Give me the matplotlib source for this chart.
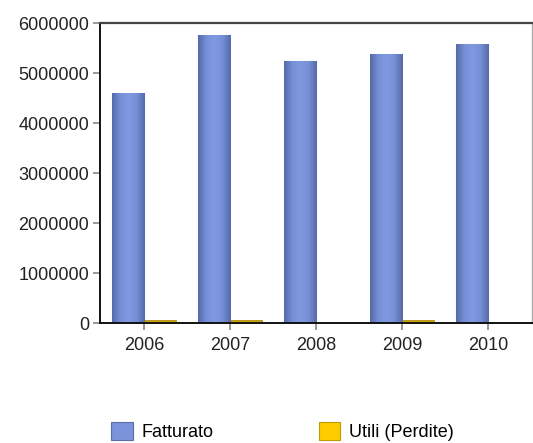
import matplotlib
matplotlib.use("Agg")
import matplotlib.pyplot as plt
import numpy as np
from matplotlib.patches import Rectangle
from matplotlib.colors import LinearSegmentedColormap

years = ["2006", "2007", "2008", "2009", "2010"]
fatturato = [4600000, 5760000, 5240000, 5380000, 5580000]
utili = [55000, 55000, -30000, 55000, -30000]
yticks = [0, 1000000, 2000000, 3000000, 4000000, 5000000, 6000000]
series_names = ["Fatturato", "Utili (Perdite)"]

plt.rcParams['font.family'] = ['Liberation Sans', 'DejaVu Sans']

W, H = 533, 443
fig = plt.figure(figsize=(W / 100, H / 100), dpi=100)
ax = fig.add_axes([100 / W, 1 - 323 / H, 432 / W, 300 / H])

x = np.arange(len(years))
bw = 0.375
blue_cmap = LinearSegmentedColormap.from_list(
    "b", ["#566aa8", "#768fd6", "#8199e0", "#768fd6", "#566aa8"])
grad = np.linspace(0, 1, 64).reshape(1, -1)

bars = ax.bar(x - bw / 2, fatturato, bw, color="#7088cc",
              edgecolor="#c5cff0", linewidth=0.8, zorder=2)
for b in bars:
    im = ax.imshow(grad, cmap=blue_cmap, aspect="auto",
                   extent=[b.get_x(), b.get_x() + b.get_width(), 0, b.get_height()],
                   zorder=2.5, interpolation="bicubic")
    im.set_clip_path(b)
ax.bar(x + bw / 2, utili, bw, color="#d0a400", edgecolor="#a08000",
       linewidth=0.5, zorder=2)

ax.set_xlim(-0.51, 4.51)
ax.set_ylim(0, 6000000)
ax.set_xticks(x)
ax.set_xticklabels(years)
ax.set_yticks(yticks)
ax.set_yticklabels([str(v) for v in yticks])
ax.tick_params(axis="both", labelsize=13, colors="#888888", labelcolor="#222222",
               length=5, width=1.2, direction="out")
ax.tick_params(axis="x", pad=5)
ax.tick_params(axis="y", pad=3)

ax.spines["left"].set_color("#111111")
ax.spines["left"].set_linewidth(1.4)
ax.spines["bottom"].set_color("#111111")
ax.spines["bottom"].set_linewidth(1.4)
ax.spines["top"].set_color("#444444")
ax.spines["top"].set_linewidth(1.6)
ax.spines["right"].set_color("#aaaaaa")
ax.spines["right"].set_linewidth(1.0)

# legend
h1 = Rectangle((0, 0), 1, 1, facecolor="#7b93da", edgecolor="#5a6cab", linewidth=0.8)
h2 = Rectangle((0, 0), 1, 1, facecolor="#ffcc00", edgecolor="#c09a00", linewidth=0.8)
fig.legend([h1, h2], series_names, loc="lower left",
           bbox_to_anchor=(104 / W, -0.012), ncol=2, frameon=False,
           fontsize=13, handlelength=1.2, handleheight=1.2,
           handletextpad=0.5, columnspacing=5.8, borderaxespad=0)

fig.savefig("out.png", dpi=100)
